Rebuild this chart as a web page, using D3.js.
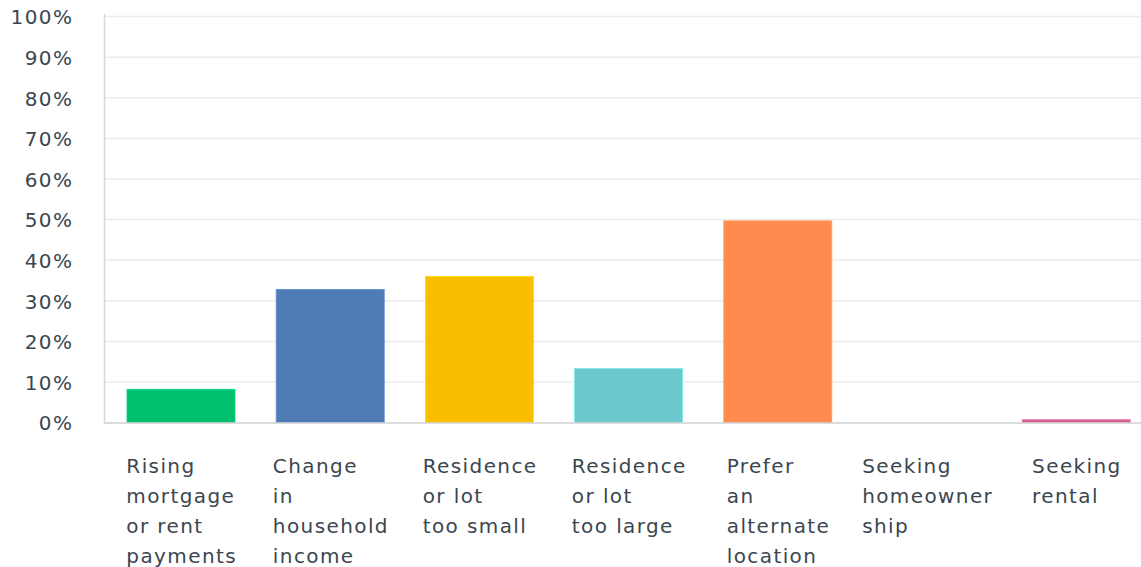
<!DOCTYPE html>
<html>
<head>
<meta charset="utf-8">
<script src="https://cdn.jsdelivr.net/npm/d3@7/dist/d3.min.js"></script>
<style>
  html, body { margin: 0; padding: 0; background: #fff; }
  svg { display: block; }
  text { font-family: "DejaVu Sans", sans-serif; fill: #3b4650; }
</style>
</head>
<body>
<svg id="chart" width="1141" height="567"></svg>
<script>
const categories = [
  ["Rising", "mortgage", "or rent", "payments"],
  ["Change", "in", "household", "income"],
  ["Residence", "or lot", "too small"],
  ["Residence", "or lot", "too large"],
  ["Prefer", "an", "alternate", "location"],
  ["Seeking", "homeowner", "ship"],
  ["Seeking", "rental"]
];
const values = [8.2, 32.8, 36.0, 13.3, 49.7, 0, 0.7];
const colors = ["#00bf6f", "#507cb6", "#f9be00", "#6bc8cd", "#ff8b4f", "#7d5e90", "#d25f90"];
const yTicks = [0, 10, 20, 30, 40, 50, 60, 70, 80, 90, 100];

const FONT = "DejaVu Sans, sans-serif";
const LS = 1.4;

const svg = d3.select("#chart");
const idx = d3.range(categories.length);

const y = d3.scaleLinear().domain([0, 100]).range([422.6, 16.6]);
const x = d3.scaleBand().domain(idx).range([106.4, 1150.8]).paddingInner(0.276).paddingOuter(0.138);

// gridlines
svg.append("g").selectAll("line").data(yTicks.filter(d => d > 0)).join("line")
  .attr("x1", 105).attr("x2", 1141)
  .attr("y1", d => y(d)).attr("y2", d => y(d))
  .attr("stroke", "#ececec").attr("stroke-width", 1.5);

// y axis labels
const yAxis = d3.axisLeft(y).tickValues(yTicks).tickFormat(d => d + "%").tickSize(0).tickPadding(0);
const yg = svg.append("g").attr("transform", `translate(${72 + LS},0)`).call(yAxis);
yg.select(".domain").remove();
yg.selectAll("text").attr("font-size", 20).attr("font-family", FONT)
  .attr("letter-spacing", LS + "px")
  .attr("fill", "#3b4650").attr("dy", "0.36em");

// left axis line
svg.append("line").attr("x1", 104.5).attr("x2", 104.5).attr("y1", 14).attr("y2", 423)
  .attr("stroke", "#d6d6d6").attr("stroke-width", 1.5);

// bars
svg.append("g").selectAll("rect").data(idx).join("rect")
  .attr("x", i => x(i))
  .attr("width", x.bandwidth())
  .attr("y", i => y(values[i]))
  .attr("height", i => y(0) - y(values[i]))
  .attr("fill", i => colors[i])
  .attr("stroke", i => d3.color(colors[i]).brighter(0.4))
  .attr("stroke-width", 0.8);

// bottom axis line
svg.append("line").attr("x1", 104).attr("x2", 1141).attr("y1", y(0) + 0.5).attr("y2", y(0) + 0.5)
  .attr("stroke", "#d0d0d0").attr("stroke-width", 1.5);

// category labels: centered block, left aligned lines
const lg = svg.append("g");
idx.forEach(i => {
  const t = lg.append("text").attr("font-size", 20).attr("font-family", FONT).attr("letter-spacing", LS + "px");
  categories[i].forEach((line, k) => {
    t.append("tspan").attr("x", 0).attr("y", 473 + k * 30).text(line);
  });
  let w = 0;
  t.selectAll("tspan").each(function() { w = Math.max(w, this.getComputedTextLength() - LS); });
  const cx = x(i) + x.bandwidth() / 2;
  t.attr("transform", `translate(${cx - w / 2},0)`);
});
</script>
</body>
</html>
